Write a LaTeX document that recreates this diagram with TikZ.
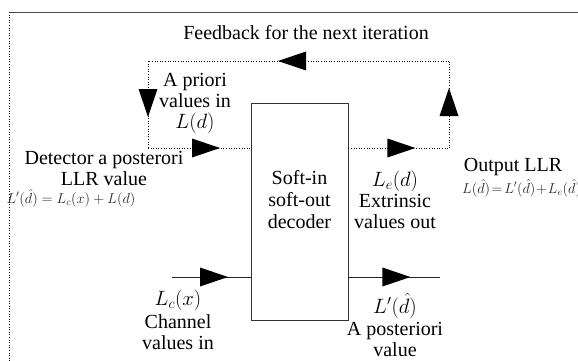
\documentclass[tikz,border=0pt]{standalone}
\usepackage{fontspec}
\setmainfont{Liberation Serif}
\usetikzlibrary{decorations.markings}
\tikzset{
  lbl/.style={inner sep=0pt, align=center, font=\fontsize{20}{21}\selectfont},
  fml/.style={inner sep=0pt, text=black!85, font=\fontsize{14}{16}\selectfont},
  fb/.style={dotted, line width=0.6pt},
  sl/.style={line width=0.7pt, black!85},
  tri/.style={postaction={decorate}, decoration={markings,
     mark=at position #1 with {\fill[black] (0pt,0pt) -- (-28pt,9.5pt) -- (-28pt,-9.5pt) -- cycle;}}},
  blk/.style={draw, line width=0.8pt, black!80, minimum width=97pt, minimum height=217pt, inner sep=0pt}
}
\begin{document}
\begin{tikzpicture}[x=1pt,y=-1pt]
\useasboundingbox (0,0) rectangle (578,361);
% frame
\draw[black!70, line width=0.7pt] (9,12) -- (578,12);
\draw[dotted, line width=0.6pt] (9,12) -- (9,361);
% decoder
\node[blk] (dec) at (299.5,211.5) {};
\node[lbl] (dectxt) at (299.5,200) {Soft-in\\[1pt]soft-out\\[1pt]decoder};
% coordinates
\coordinate (ur) at (449,148);
\coordinate (ut) at (449,61);
\coordinate (lt) at (148,61);
\coordinate (lb) at (148,148);
\coordinate (inA) at (dec.west |- lb);
\coordinate (outA) at (dec.east |- ur);
\coordinate (cin) at (172,277);
\coordinate (cinB) at (dec.west |- cin);
\coordinate (pout) at (440,277);
\coordinate (poutB) at (dec.east |- pout);
% feedback loop
\draw[fb, tri=60pt] (ur) -- (ut);
\draw[fb, tri=171pt] (ut) -- (lt);
\draw[fb, tri=56pt] (lt) -- (lb);
\draw[fb, tri=72pt] (lb) -- (inA);
\draw[fb, tri=67pt] (outA) -- (ur);
% channel in / a posteriori out
\draw[sl, tri=56pt] (cin) -- (cinB);
\draw[sl, tri=62pt] (poutB) -- (pout);
% labels
\node[lbl] (fbtxt) at (306,33) {Feedback for the next iteration};
\node[lbl] (apri) at (195,103) {A priori\\values in\\$L(d)$};
\node[lbl] (det) at (104,168) {Detector a posterori\\LLR value};
\node[fml] (detf) at (71,198) {$L'(\hat{d}) = L_c(x) + L(d)$};
\node[lbl] (ext) at (395,200) {$L_e(d)$\\Extrinsic\\values out};
\node[lbl] (outl) at (513,167) {Output LLR};
\node[fml, anchor=west] (outf) at (462,188) {$\thickmuskip=2mu\medmuskip=1mu L(\hat{d})=L'(\hat{d})+L_e(\hat{d})$};
\node[lbl] (chin) at (178,320) {$L_c(x)$\\[2pt]Channel\\values in};
\node[lbl] (apost) at (395,325) {$L'(\hat{d})$\\[1pt]A posteriori\\value};
\end{tikzpicture}
\end{document}
